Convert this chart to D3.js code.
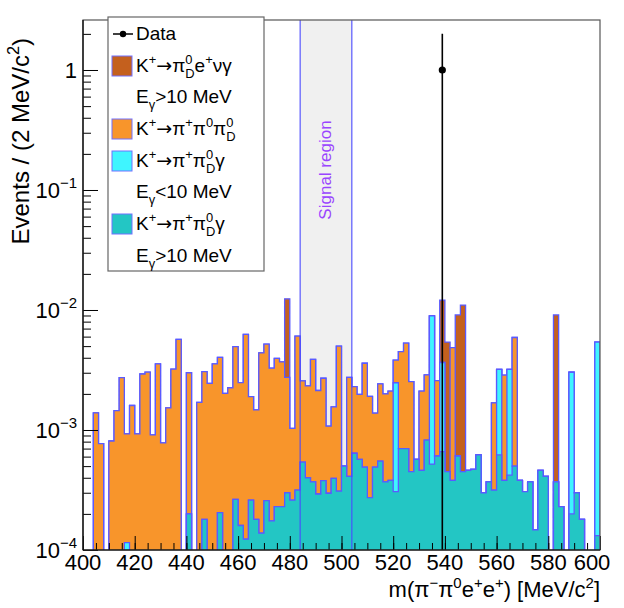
<!DOCTYPE html>
<html><head><meta charset="utf-8">
<script src="https://cdn.jsdelivr.net/npm/d3@7"></script>
<style>
body{margin:0;background:#fff}
svg{display:block}
text{font-family:"Liberation Sans",Arial,Helvetica,sans-serif;fill:#000}
</style>
</head><body>
<svg id="chart" width="624" height="608"></svg>
<script>
// ---------------- data ----------------
const binLow = 400, binWidth = 2, nBins = 100;

// K+ -> pi+ pi0_D gamma, E_gamma > 10 MeV (teal, bottom of stack)
const tealVals = [
 0,0,0,0,0,0,0,0,0,0,
 0,0,0,0,0,0,0,0,0,0,
 2.0e-4,0,0,1.8e-4,0,0,2.05e-4,0,0,2.64e-4,
 1.6e-4,1.23e-4,2.6e-4,1.8e-4,1.38e-4,2.58e-4,1.75e-4,2.3e-4,2.3e-4,3.0e-4,
 2.6e-4,3.16e-4,5.4e-4,4.0e-4,3.7e-4,2.93e-4,3.78e-4,2.97e-4,3.96e-4,3.1e-4,
 5.0e-4,4.1e-4,6.4e-4,5.7e-4,4.9e-4,2.73e-4,4.9e-4,5.5e-4,3.7e-4,3.8e-4,
 3.06e-4,7.0e-4,7.0e-4,4.5e-4,5.7e-4,4.6e-4,8.25e-4,5.2e-4,6.07e-4,6.6e-4,
 4.5e-4,3.8e-4,6.07e-4,4.5e-4,4.6e-4,4.7e-4,6.2e-4,3.0e-4,3.7e-4,3.16e-4,
 6.2e-4,3.8e-4,4.2e-4,5.0e-4,3.8e-4,3.06e-4,3.7e-4,1.47e-4,4.6e-4,4.1e-4,
 0,3.7e-4,2.3e-4,0,2.0e-4,3.0e-4,1.8e-4,0,0,1.32e-4
];
// K+ -> pi+ pi0_D gamma, E_gamma < 10 MeV (cyan)
const cyanVals = [
 0,0,0,0,0,0,0,0,1.15e-4,0,
 0,0,0,0,0,0,0,0,0,0,
 0,0,0,0,0,0,0,0,0,0,
 0,0,0,0,0,0,0,0,0,0,
 0,0,0,0,0,0,0,0,0,0,
 0,0,0,0,0,0,0,0,0,0,
 2.17e-3,0,0,0,0,0,0,8.4e-3,0,2.99e-3,
 0,0,0,0,0,0,0,0,0,0,
 2.58e-3,0,2.78e-3,0,0,0,0,0,0,0,
 0,0,0,0,2.83e-3,0,0,0,0,5.27e-3
];
// K+ -> pi+ pi0 pi0_D (orange)
const orangeVals = [
 0,0,1.39e-3,7.7e-4,0,8.1e-4,1.45e-3,2.73e-3,8.15e-4,1.6e-3,
 9.3e-4,2.93e-3,3.04e-3,9.1e-4,3.55e-3,7.8e-4,1.53e-3,3.22e-3,5.7e-3,0,
 2.8e-3,0,1.7e-3,2.88e-3,2.45e-3,3.55e-3,3.82e-3,2.02e-3,2.25e-3,4.69e-3,
 2.32e-3,6.15e-3,1.64e-3,1.29e-3,4.26e-3,4.94e-3,3.1e-3,3.73e-3,3.47e-3,2.45e-3,
 7.7e-4,5.75e-3,2.03e-3,1.93e-3,3.51e-3,1.84e-3,2.32e-3,7.8e-4,1.16e-3,4.69e-3,
 0,2.34e-3,1.66e-3,1.41e-3,3.11e-3,1.63e-3,8.9e-4,1.87e-3,1.63e-3,1.73e-3,
 1.35e-3,3.8e-3,4.6e-3,2.08e-3,0,1.65e-3,2.05e-3,0,1.97e-3,0,
 0,4.47e-3,0,0,0,0,0,0,0,1.37e-3,
 0,2.49e-3,0,5.4e-3,0,0,0,0,0,0,
 0,0,0,0,0,0,0,0,0,0
];
// K+ -> pi0_D e+ nu gamma, E_gamma > 10 MeV (brown, top of stack)
const brownVals = [
 0,0,0,0,0,0,0,0,0,0,
 0,0,0,0,0,0,0,0,0,0,
 0,0,0,0,0,0,0,0,0,0,
 0,0,0,0,0,0,0,0,0,9.65e-3,
 0,0,0,0,0,0,0,0,0,0,
 0,0,0,0,0,0,0,0,0,0,
 0,0,0,0,0,0,0,0,0,8.45e-3,
 4.95e-3,0,8.49e-3,1.055e-2,0,0,0,0,0,0,
 0,0,0,0,0,0,0,0,0,0,
 0,8.73e-3,0,0,0,0,0,0,0,0
];

const dataX = [539];
const dataY = [1];
const dataErr = [1];

const signalRegion = [484, 504];
const xTickValues = d3.range(400, 601, 20);
const xMinorValues = d3.range(400, 601, 5);
const yTickValues = [1e-4, 1e-3, 1e-2, 1e-1, 1];
const yTickLabels = [["10","\u22124"],["10","\u22123"],["10","\u22122"],["10","\u22121"],["1",""]];

// ---------------- layout ----------------
const svg = d3.select("#chart");
const L = 83, R = 600, T = 20, B = 550;
const x = d3.scaleLinear().domain([400, 600]).range([L, R]);
const y = d3.scaleLog().domain([1e-4, 2.61]).range([B, T]);
const outline = "#5a5aff";

svg.append("rect").attr("width", 624).attr("height", 608).attr("fill", "#fff");
svg.append("defs").append("clipPath").attr("id", "clip")
  .append("rect").attr("x", L).attr("y", T).attr("width", R - L).attr("height", B - T);

const plot = svg.append("g").attr("clip-path", "url(#clip)");

// signal region band
plot.append("rect")
  .attr("x", x(signalRegion[0])).attr("y", T)
  .attr("width", x(signalRegion[1]) - x(signalRegion[0])).attr("height", B - T)
  .attr("fill", "#f0f0f0");

// stacked histograms
const layers = [
  {vals: tealVals,   color: "#23c6c4"},
  {vals: cyanVals,   color: "#3ff5ff"},
  {vals: orangeVals, color: "#f8952b"},
  {vals: brownVals,  color: "#c4601e"}
];
let cum = new Array(nBins).fill(0);
layers.forEach(Ly => { cum = cum.map((c, i) => c + Ly.vals[i]); Ly.cum = cum.slice(); });

const floor = 1e-6;
const area = d3.area().x(d => x(d[0])).y0(y(floor)).y1(d => y(Math.max(d[1], floor)));
const line = d3.line().x(d => x(d[0])).y(d => y(Math.max(d[1], floor)));

layers.slice().reverse().forEach(Ly => {
  const pts = [[binLow, floor]];
  Ly.cum.forEach((v, i) => {
    const lo = binLow + i * binWidth;
    pts.push([lo, v]); pts.push([lo + binWidth, v]);
  });
  pts.push([binLow + nBins * binWidth, floor]);
  plot.append("path").attr("d", area(pts)).attr("fill", Ly.color);
  plot.append("path").attr("d", line(pts)).attr("fill", "none")
    .attr("stroke", outline).attr("stroke-width", 1.3);
});

// signal region boundaries
signalRegion.forEach(v => {
  plot.append("line").attr("x1", x(v)).attr("x2", x(v)).attr("y1", T).attr("y2", B)
    .attr("stroke", "#4a4aff").attr("stroke-width", 1.1);
});

// data
dataX.forEach((dx, i) => {
  plot.append("line").attr("x1", x(dx)).attr("x2", x(dx))
    .attr("y1", y(dataY[i] + dataErr[i]))
    .attr("y2", y(Math.max(dataY[i] - dataErr[i], floor)))
    .attr("stroke", "#000").attr("stroke-width", 1.6);
  plot.append("circle").attr("cx", x(dx)).attr("cy", y(dataY[i])).attr("r", 3.6).attr("fill", "#000");
});

// "Signal region" label
svg.append("text")
  .attr("transform", `translate(${(x(signalRegion[0]) + x(signalRegion[1])) / 2 + 5},170) rotate(-90)`)
  .attr("text-anchor", "middle").attr("font-size", 17).style("fill", "#9a45ff")
  .text("Signal region");

// ---------------- axes ----------------
const xAxisMajor = d3.axisBottom(x).tickValues(xTickValues).tickSize(-14).tickFormat("");
const xAxisMinor = d3.axisBottom(x).tickValues(xMinorValues).tickSize(-7).tickFormat("");
[xAxisMajor, xAxisMinor].forEach(ax => {
  const g = svg.append("g").attr("transform", `translate(0,${B})`).call(ax);
  g.select(".domain").remove();
  g.selectAll(".tick line").attr("stroke", "#000").attr("stroke-width", 1);
});

const yMinor = [];
for (let e = -4; e <= 0; e++) for (let k = 2; k <= 9; k++) {
  const v = k * Math.pow(10, e); if (v <= 2.61) yMinor.push(v);
}
const yAxisMajor = d3.axisLeft(y).tickValues(yTickValues).tickSize(-15).tickFormat("");
const yAxisMinor = d3.axisLeft(y).tickValues(yMinor).tickSize(-8).tickFormat("");
[yAxisMajor, yAxisMinor].forEach(ax => {
  const g = svg.append("g").attr("transform", `translate(${L},0)`).call(ax);
  g.select(".domain").remove();
  g.selectAll(".tick line").attr("stroke", "#000").attr("stroke-width", 1);
});

// frame
svg.append("rect").attr("x", L).attr("y", T).attr("width", R - L).attr("height", B - T)
  .attr("fill", "none").attr("stroke", "#555").attr("stroke-width", 1.2);
svg.append("line").attr("x1", L).attr("x2", L).attr("y1", T).attr("y2", B).attr("stroke", "#000").attr("stroke-width", 1.2);
svg.append("line").attr("x1", L).attr("x2", R).attr("y1", B).attr("y2", B).attr("stroke", "#000").attr("stroke-width", 1.2);

// x tick labels
xTickValues.forEach(v => {
  svg.append("text").attr("x", v === 600 ? x(v) - 8 : x(v)).attr("y", 570).attr("text-anchor", "middle")
    .attr("font-size", 22).text(v);
});
// y tick labels
yTickValues.forEach((v, i) => {
  const t = svg.append("text").attr("x", 77).attr("y", y(v) + 8).attr("text-anchor", "end").attr("font-size", 22);
  t.append("tspan").text(yTickLabels[i][0]);
  if (yTickLabels[i][1]) t.append("tspan").attr("dy", -10).attr("font-size", 15).text(yTickLabels[i][1]);
});

// ---------------- rich text helper ----------------
function rich(parent, x0, y0, segs, size, anchor) {
  const g = parent.append("g");
  let cx = 0;
  segs.forEach(s => {
    if (s.ss) {
      const a = g.append("text").attr("x", cx).attr("y", -size * 0.42).attr("font-size", size * 0.68).text(s.ss[0]);
      const b = g.append("text").attr("x", cx).attr("y", size * 0.3).attr("font-size", size * 0.68).text(s.ss[1]);
      cx += Math.max(a.node().getComputedTextLength(), b.node().getComputedTextLength());
    } else if (s.sup !== undefined) {
      const a = g.append("text").attr("x", cx).attr("y", -size * 0.42).attr("font-size", size * 0.68).text(s.sup);
      cx += a.node().getComputedTextLength();
    } else if (s.sub !== undefined) {
      const a = g.append("text").attr("x", cx).attr("y", size * 0.3).attr("font-size", size * 0.68).text(s.sub);
      cx += a.node().getComputedTextLength();
    } else {
      const a = g.append("text").attr("x", cx).attr("y", 0).attr("font-size", size).text(s.t);
      if (s.font) a.style("font-family", s.font);
      cx += a.node().getComputedTextLength();
    }
  });
  const off = anchor === "end" ? -cx : 0;
  g.attr("transform", `translate(${x0 + off},${y0})`);
  return g;
}

// axis titles
rich(svg, 600, 597, [{t:"m(\u03c0"},{sup:"\u2212"},{t:"\u03c0"},{sup:"0"},{t:"e"},{sup:"+"},{t:"e"},{sup:"+"},{t:") [MeV/c"},{sup:"2"},{t:"]"}], 22, "end");
const yt = svg.append("g").attr("transform", "translate(29,0) rotate(-90)");
rich(yt, -38, 0, [{t:"Events / (2 MeV/c"},{sup:"2"},{t:")"}], 24, "end");

// ---------------- legend ----------------
svg.append("rect").attr("x", 108).attr("y", 17).attr("width", 156).attr("height", 254)
  .attr("fill", "#fff").attr("stroke", "#666").attr("stroke-width", 1.2);

const rowY = [34, 66, 97, 129, 161, 192, 224, 256];
const legFont = 19;
// data entry
svg.append("line").attr("x1", 113).attr("x2", 133).attr("y1", rowY[0]).attr("y2", rowY[0]).attr("stroke", "#000").attr("stroke-width", 1.5);
svg.append("circle").attr("cx", 123).attr("cy", rowY[0]).attr("r", 3.2).attr("fill", "#000");
rich(svg, 136, rowY[0] + 6, [{t:"Data"}], legFont);

const swatches = [
  {row: 1, color: layers[3].color},
  {row: 3, color: layers[2].color},
  {row: 4, color: layers[1].color},
  {row: 6, color: layers[0].color}
];
swatches.forEach(s => {
  svg.append("rect").attr("x", 112).attr("y", rowY[s.row] - 10).attr("width", 20).attr("height", 20)
    .attr("fill", s.color).attr("stroke", "#7070ff").attr("stroke-width", 1);
});
const arrow = {t:"\u2192", font:"DejaVu Sans"};
const Kpp = [{t:"K"},{sup:"+"},arrow,{t:"\u03c0"},{sup:"+"},{t:"\u03c0"},{ss:["0","D"]},{t:"\u03b3"}];
const legendTexts = [
  [1, [{t:"K"},{sup:"+"},arrow,{t:"\u03c0"},{ss:["0","D"]},{t:"e"},{sup:"+"},{t:"\u03bd\u03b3"}]],
  [2, [{t:"E"},{sub:"\u03b3"},{t:">10 MeV"}]],
  [3, [{t:"K"},{sup:"+"},arrow,{t:"\u03c0"},{sup:"+"},{t:"\u03c0"},{sup:"0"},{t:"\u03c0"},{ss:["0","D"]}]],
  [4, Kpp],
  [5, [{t:"E"},{sub:"\u03b3"},{t:"<10 MeV"}]],
  [6, Kpp],
  [7, [{t:"E"},{sub:"\u03b3"},{t:">10 MeV"}]]
];
legendTexts.forEach(([r, segs]) => rich(svg, 136, rowY[r] + 6, segs, legFont));
</script>
</body></html>
